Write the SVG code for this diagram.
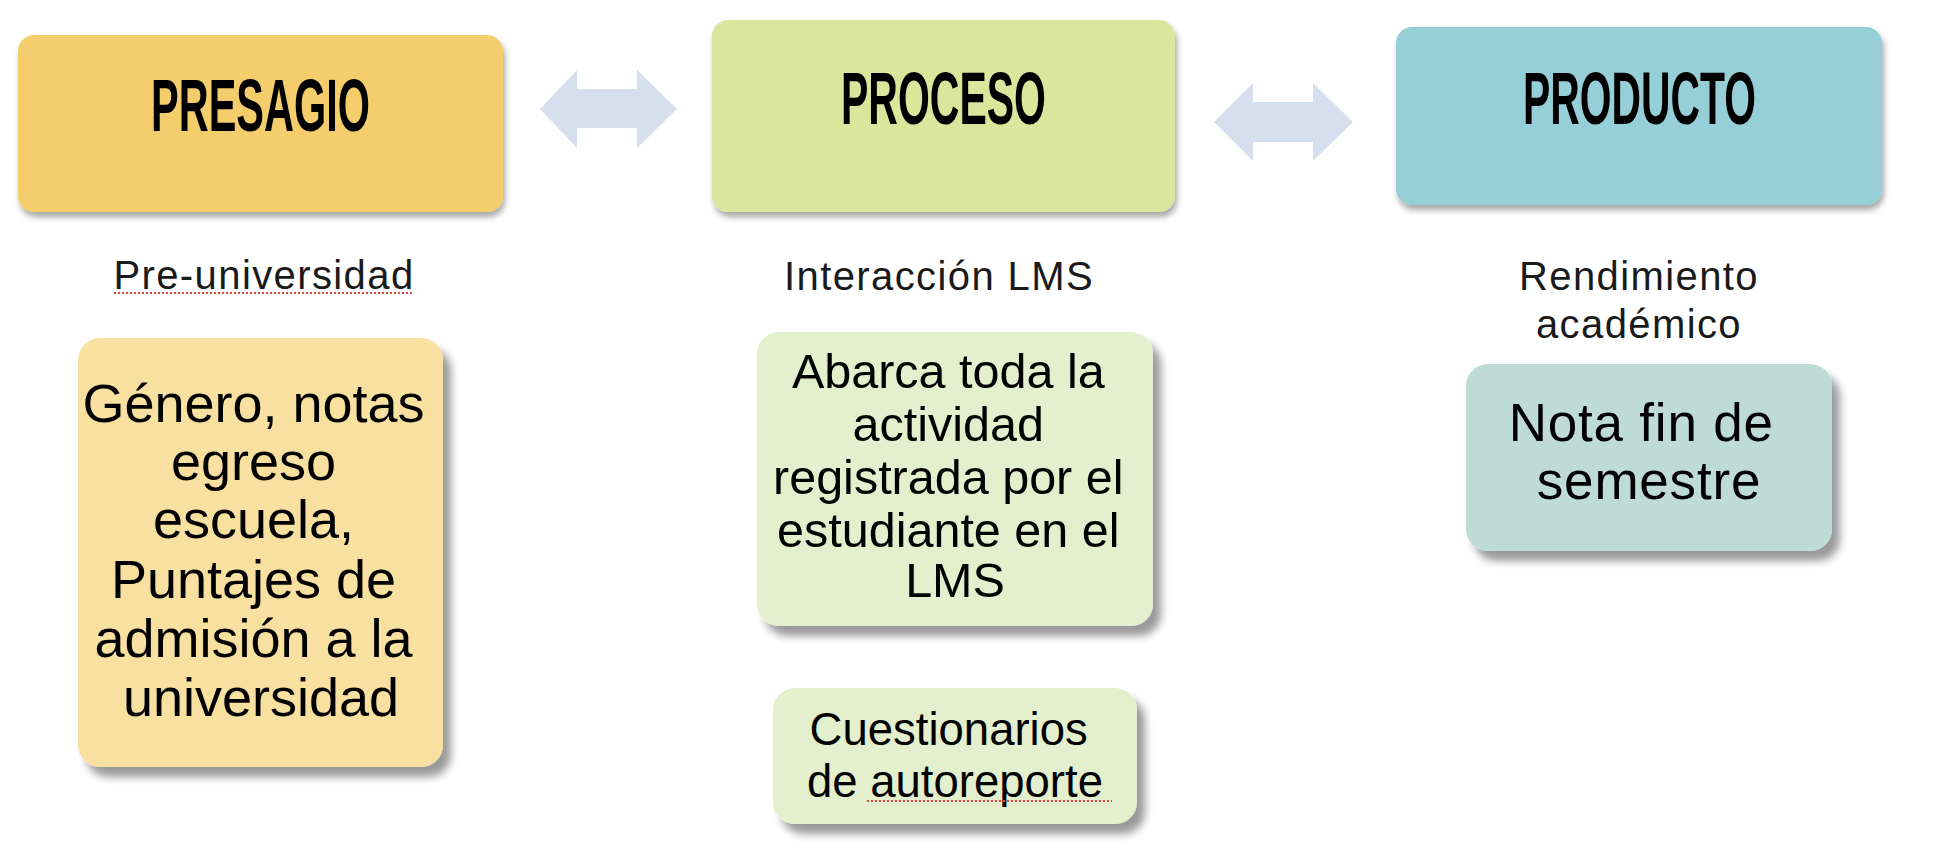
<svg xmlns="http://www.w3.org/2000/svg" width="1948" height="866" viewBox="0 0 1948 866">
  <defs>
    <filter id="shTitle" x="-10%" y="-10%" width="130%" height="140%">
      <feGaussianBlur in="SourceAlpha" stdDeviation="3"/>
      <feOffset dx="2" dy="5" result="b"/>
      <feComponentTransfer><feFuncA type="linear" slope="0.35"/></feComponentTransfer>
      <feMerge><feMergeNode/><feMergeNode in="SourceGraphic"/></feMerge>
    </filter>
    <filter id="shBox" x="-10%" y="-10%" width="130%" height="130%">
      <feGaussianBlur in="SourceAlpha" stdDeviation="4"/>
      <feOffset dx="8" dy="10" result="b"/>
      <feComponentTransfer><feFuncA type="linear" slope="0.4"/></feComponentTransfer>
      <feMerge><feMergeNode/><feMergeNode in="SourceGraphic"/></feMerge>
    </filter>
  </defs>
  <style>
    .title { font-family: "Liberation Sans", Arial, sans-serif; font-weight: bold; fill: #000; text-anchor: middle; }
    .sub { font-family: "Liberation Sans", Arial, sans-serif; font-size: 40px; fill: #1a1a1a; text-anchor: middle; letter-spacing: 1.4px; }
    .body { font-family: "Liberation Sans", Arial, sans-serif; fill: #000; text-anchor: middle; }
    .arrow { fill: #d6dfed; }
    .spell { stroke: #e0463c; stroke-width: 2; stroke-dasharray: 2 2; fill: none; }
  </style>
  <rect width="1948" height="866" fill="#ffffff"/>

  <g id="presagio">
    <rect x="18" y="35" width="485" height="177" rx="16" fill="#f4cd6c" filter="url(#shTitle)"/>
    <text class="title" x="260.5" y="131" font-size="75" textLength="219" lengthAdjust="spacingAndGlyphs">PRESAGIO</text>
  </g>
  <g id="proceso">
    <rect x="712" y="20" width="463" height="192" rx="16" fill="#d9e69c" filter="url(#shTitle)"/>
    <text class="title" x="943.5" y="124" font-size="74" textLength="205" lengthAdjust="spacingAndGlyphs">PROCESO</text>
  </g>
  <g id="producto">
    <rect x="1396" y="27" width="486" height="178" rx="16" fill="#96cfd7" filter="url(#shTitle)"/>
    <text class="title" x="1639.5" y="124" font-size="74" textLength="233" lengthAdjust="spacingAndGlyphs">PRODUCTO</text>
  </g>

  <g id="connectors">
    <polygon class="arrow" points="540,109 577,70 577,89 637,89 637,70 677,109 637,148 637,128 577,128 577,148"/>
    <polygon class="arrow" points="1214,122 1253,83 1253,102 1313,102 1313,83 1353,122 1313,161 1313,142 1253,142 1253,161"/>
  </g>

  <g id="label-preuniversidad">
    <text class="sub" x="264" y="289">Pre-universidad</text>
    <line class="spell" x1="114" y1="293" x2="414" y2="293"/>
  </g>
  <g id="label-interaccion">
    <text class="sub" x="939" y="290">Interacción LMS</text>
  </g>
  <g id="label-rendimiento">
    <text class="sub" x="1639" y="290">Rendimiento</text>
    <text class="sub" x="1639" y="338">académico</text>
  </g>

  <g id="box-presagio">
    <rect x="78" y="338" width="365" height="429" rx="22" fill="#f8e0a0" filter="url(#shBox)"/>
    <text class="body" font-size="54" x="261">
      <tspan x="261" y="422">Género, notas</tspan>
      <tspan x="261" y="480">egreso</tspan>
      <tspan x="261" y="538">escuela,</tspan>
      <tspan x="261" y="598">Puntajes de</tspan>
      <tspan x="261" y="657">admisión a la</tspan>
      <tspan x="261" y="716">universidad</tspan>
    </text>
  </g>

  <g id="box-proceso">
    <rect x="757" y="332" width="396" height="294" rx="22" fill="#e3efcd" filter="url(#shBox)"/>
    <text class="body" font-size="48.5" x="955">
      <tspan x="955" y="388">Abarca toda la</tspan>
      <tspan x="955" y="441">actividad</tspan>
      <tspan x="955" y="494">registrada por el</tspan>
      <tspan x="955" y="547">estudiante en el</tspan>
      <tspan x="955" y="597">LMS</tspan>
    </text>
  </g>

  <g id="box-cuestionarios">
    <rect x="773" y="688" width="364" height="136" rx="22" fill="#e3efcd" filter="url(#shBox)"/>
    <text class="body" font-size="45.5" x="955">
      <tspan x="955" y="745">Cuestionarios</tspan>
      <tspan x="955" y="797">de autoreporte</tspan>
    </text>
    <line class="spell" x1="867" y1="801" x2="1112" y2="801"/>
  </g>

  <g id="box-producto">
    <rect x="1466" y="364" width="366" height="187" rx="22" fill="#bedbd5" filter="url(#shBox)"/>
    <text class="body" font-size="53" letter-spacing="0.8" x="1649">
      <tspan x="1649" y="441">Nota fin de</tspan>
      <tspan x="1649" y="499">semestre</tspan>
    </text>
  </g>
</svg>
